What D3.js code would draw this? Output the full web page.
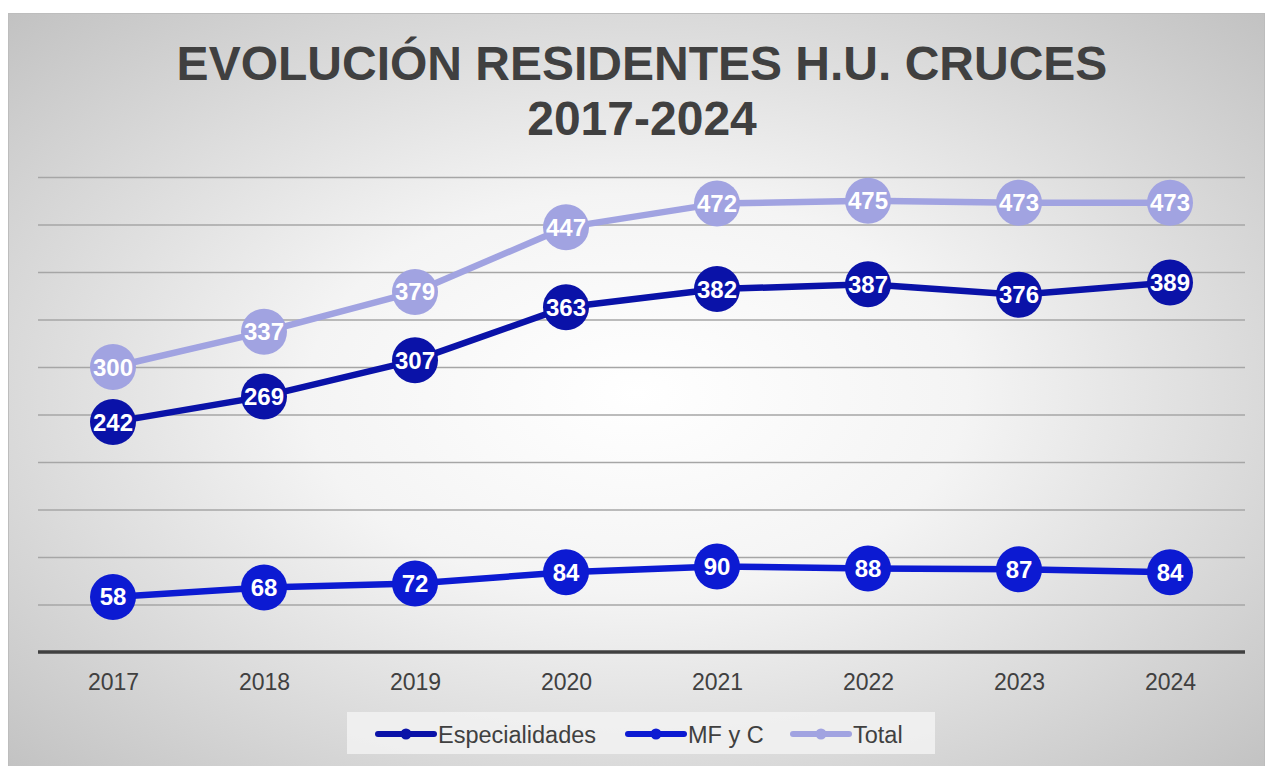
<!DOCTYPE html>
<html>
<head>
<meta charset="utf-8">
<script src="https://cdn.jsdelivr.net/npm/d3@7"></script>
<style>
  body { margin: 0; background: #fff; }
  text { font-family: "Liberation Sans", Arial, sans-serif; }
</style>
</head>
<body>
<svg width="1265" height="766"></svg>
<script>
var years = ["2017", "2018", "2019", "2020", "2021", "2022", "2023", "2024"];
var especialidades = [242, 269, 307, 363, 382, 387, 376, 389];
var mfyc = [58, 68, 72, 84, 90, 88, 87, 84];
var total = [300, 337, 379, 447, 472, 475, 473, 473];
var seriesNames = ["Especialidades", "MF y C", "Total"];
var seriesColors = ["#0a12a8", "#0c1ad2", "#a1a3e1"];
var yTicks = [0, 50, 100, 150, 200, 250, 300, 350, 400, 450, 500];

var svg = d3.select("svg");

// background panel with radial gradient
var defs = svg.append("defs");
var grad = defs.append("radialGradient").attr("id", "bg")
    .attr("cx", "50%").attr("cy", "50%").attr("r", "75%");
grad.append("stop").attr("offset", "0%").attr("stop-color", "#ffffff");
grad.append("stop").attr("offset", "35%").attr("stop-color", "#f4f4f4");
grad.append("stop").attr("offset", "100%").attr("stop-color", "#bdbdbd");

svg.append("rect").attr("x", 8.5).attr("y", 13.5).attr("width", 1256).attr("height", 760)
    .attr("fill", "url(#bg)").attr("stroke", "#bdbdbd").attr("stroke-width", 1);

// title
svg.append("text").attr("x", 642).attr("y", 80).attr("text-anchor", "middle")
    .style("font-size", "48px").style("font-weight", "bold").style("fill", "#404040")
    .text("EVOLUCIÓN RESIDENTES H.U. CRUCES");
svg.append("text").attr("x", 642).attr("y", 135).attr("text-anchor", "middle")
    .style("font-size", "48px").style("font-weight", "bold").style("fill", "#404040")
    .text("2017-2024");

xScale = d3.scalePoint().domain(years).range([113, 1170]);
yScale = d3.scaleLinear().domain([0, 500]).range([652, 177]);

// gridlines
yAxis = d3.axisLeft(yScale).tickValues(yTicks.slice(1)).tickSize(-1207).tickFormat("");
var gy = svg.append("g").attr("transform", "translate(1245,0)").call(yAxis);
gy.select(".domain").remove();
gy.selectAll(".tick line").attr("x1", 0).attr("x2", -1207)
    .attr("stroke", "#a6a6a6").attr("stroke-width", 1.3);

// x axis
xAxis = d3.axisBottom(xScale).tickSize(0).tickPadding(22);
var gx = svg.append("g").attr("transform", "translate(0,652)").call(xAxis);
gx.select(".domain").remove();
gx.selectAll("text").style("font-size", "23px").style("fill", "#404040")
    .style("font-family", "'Liberation Sans', Arial, sans-serif");
svg.append("line").attr("x1", 38).attr("x2", 1245).attr("y1", yScale(0)).attr("y2", yScale(0))
    .attr("stroke", "#404040").attr("stroke-width", 3.5);

var allSeries = [especialidades, mfyc, total];
var line = d3.line().x(function (d, i) { return xScale(years[i]); }).y(function (d) { return yScale(d); });

allSeries.forEach(function (vals, s) {
    svg.append("path").datum(vals).attr("d", line).attr("fill", "none")
        .attr("stroke", seriesColors[s]).attr("stroke-width", 6.5).attr("stroke-linejoin", "round");
    var g = svg.append("g");
    g.selectAll("circle").data(vals).enter().append("circle")
        .attr("cx", function (d, i) { return xScale(years[i]); })
        .attr("cy", function (d) { return yScale(d); })
        .attr("r", 23).attr("fill", seriesColors[s]);
    g.selectAll("text").data(vals).enter().append("text")
        .attr("x", function (d, i) { return xScale(years[i]); })
        .attr("y", function (d) { return yScale(d) + 8.5; })
        .attr("text-anchor", "middle")
        .style("font-size", "24px").style("font-weight", "bold").style("fill", "#ffffff")
        .text(function (d) { return d; });
});

// legend
svg.append("rect").attr("x", 347).attr("y", 712).attr("width", 588).attr("height", 42)
    .attr("fill", "#f2f2f2").attr("opacity", 0.85);
var legendX = [378, 628, 793];
seriesNames.forEach(function (name, s) {
    var lg = svg.append("g").attr("transform", "translate(" + legendX[s] + ",734)");
    lg.append("line").attr("x1", 0).attr("x2", 56).attr("y1", 0).attr("y2", 0)
        .attr("stroke", seriesColors[s]).attr("stroke-width", 6).attr("stroke-linecap", "round");
    lg.append("circle").attr("cx", 28).attr("cy", 0).attr("r", 5.5).attr("fill", seriesColors[s]);
    lg.append("text").attr("x", 60).attr("y", 8.5).style("font-size", "23.5px").style("fill", "#404040")
        .text(name);
});
</script>
</body>
</html>
